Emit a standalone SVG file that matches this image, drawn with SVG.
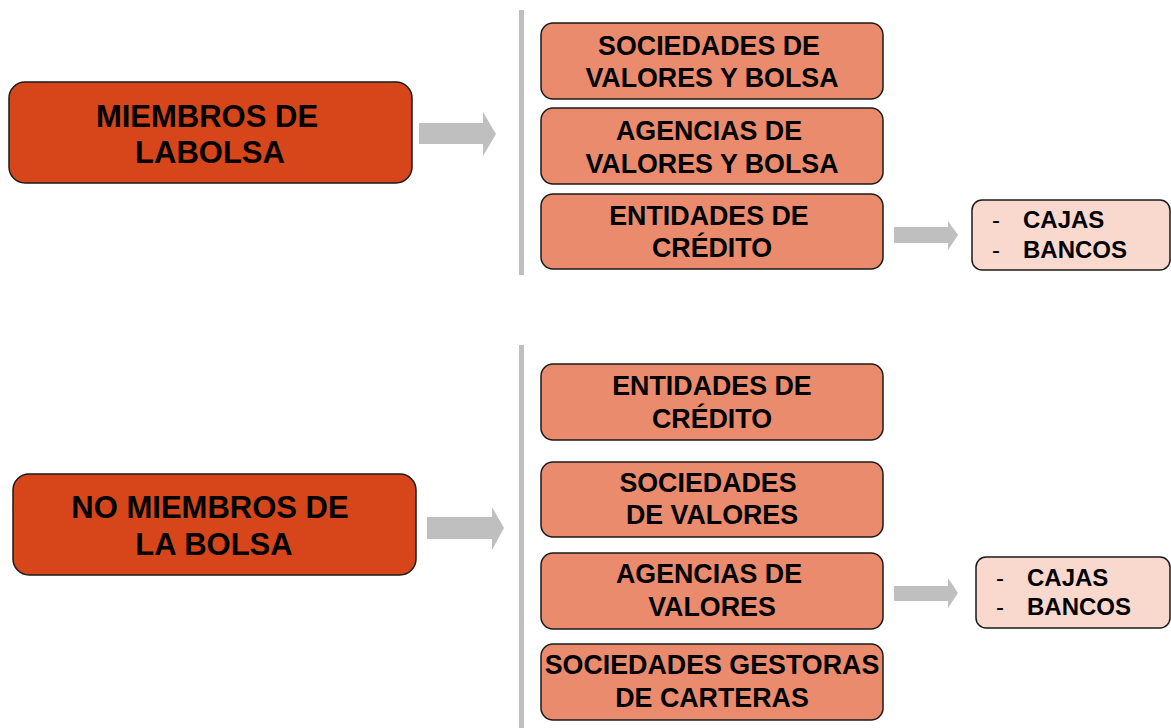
<svg xmlns="http://www.w3.org/2000/svg" width="1171" height="728" viewBox="0 0 1171 728">
<style>
text{font-family:"Liberation Sans",Arial,sans-serif;font-weight:bold;fill:#000}
.main{fill:#d6461a;stroke:#1a1a1a;stroke-width:1.5}
.sub{fill:#eb8b6e;stroke:#1a1a1a;stroke-width:1.5}
.leaf{fill:#f9d8ce;stroke:#1a1a1a;stroke-width:1.5}
.big{font-size:31px}
.mid{font-size:26.8px}
.sm{font-size:24px}
.dash{font-weight:normal}
.c{text-anchor:middle}
.arrow{fill:#bfbfbf}
.bar{fill:#bfbfbf}
</style>
<rect width="1171" height="728" fill="#fff"/>
<g id="connectors">
<rect class="bar" x="519" y="10" width="5" height="265"/>
<rect class="bar" x="519" y="345" width="5" height="383"/>
<polygon class="arrow" points="419,123 483,123 483,112 496,134 483,156 483,144 419,144"/>
<polygon class="arrow" points="427,517 492,517 492,507 504,528 492,550 492,539 427,539"/>
<polygon class="arrow" points="894,227 948,227 948,221 958,235 948,250 948,243 894,243"/>
<polygon class="arrow" points="894,586 948,586 948,578 958,593 948,608 948,601 894,601"/>
</g>
<g id="miembros">
<rect class="main" x="9" y="82" width="403" height="101" rx="16"/>
<text class="big c" x="207" y="127">MIEMBROS DE</text>
<text class="big c" x="210" y="163">LABOLSA</text>
</g>
<g id="sociedades-vb">
<rect class="sub" x="541" y="23" width="342" height="76" rx="12"/>
<text class="mid c" x="709" y="55">SOCIEDADES DE</text>
<text class="mid c" x="712" y="87">VALORES Y BOLSA</text>
</g>
<g id="agencias-vb">
<rect class="sub" x="541" y="108" width="342" height="76" rx="12"/>
<text class="mid c" x="709" y="140">AGENCIAS DE</text>
<text class="mid c" x="712" y="173">VALORES Y BOLSA</text>
</g>
<g id="entidades-1">
<rect class="sub" x="541" y="194" width="342" height="75" rx="12"/>
<text class="mid c" x="709" y="225">ENTIDADES DE</text>
<text class="mid c" x="712" y="257">CRÉDITO</text>
</g>
<g id="cajas-1">
<rect class="leaf" x="972" y="200" width="198" height="70" rx="10"/>
<text class="sm dash" x="992" y="228">-</text>
<text class="sm" x="1023" y="228">CAJAS</text>
<text class="sm dash" x="992" y="258">-</text>
<text class="sm" x="1023" y="258">BANCOS</text>
</g>
<g id="no-miembros">
<rect class="main" x="13" y="474" width="403" height="101" rx="16"/>
<text class="big c" x="210" y="518">NO MIEMBROS DE</text>
<text class="big c" x="214" y="555">LA BOLSA</text>
</g>
<g id="entidades-2">
<rect class="sub" x="541" y="364" width="342" height="76" rx="12"/>
<text class="mid c" x="712" y="395">ENTIDADES DE</text>
<text class="mid c" x="712" y="428">CRÉDITO</text>
</g>
<g id="sociedades-v">
<rect class="sub" x="541" y="462" width="342" height="75" rx="12"/>
<text class="mid c" x="708" y="492">SOCIEDADES</text>
<text class="mid c" x="712" y="524">DE VALORES</text>
</g>
<g id="agencias-v">
<rect class="sub" x="541" y="553" width="342" height="76" rx="12"/>
<text class="mid c" x="709" y="583">AGENCIAS DE</text>
<text class="mid c" x="712" y="616">VALORES</text>
</g>
<g id="gestoras">
<rect class="sub" x="541" y="644" width="342" height="76" rx="12"/>
<text class="mid c" x="712" y="674">SOCIEDADES GESTORAS</text>
<text class="mid c" x="712" y="707">DE CARTERAS</text>
</g>
<g id="cajas-2">
<rect class="leaf" x="976" y="557" width="194" height="71" rx="10"/>
<text class="sm dash" x="996" y="586">-</text>
<text class="sm" x="1027" y="586">CAJAS</text>
<text class="sm dash" x="996" y="615">-</text>
<text class="sm" x="1027" y="615">BANCOS</text>
</g>
</svg>
